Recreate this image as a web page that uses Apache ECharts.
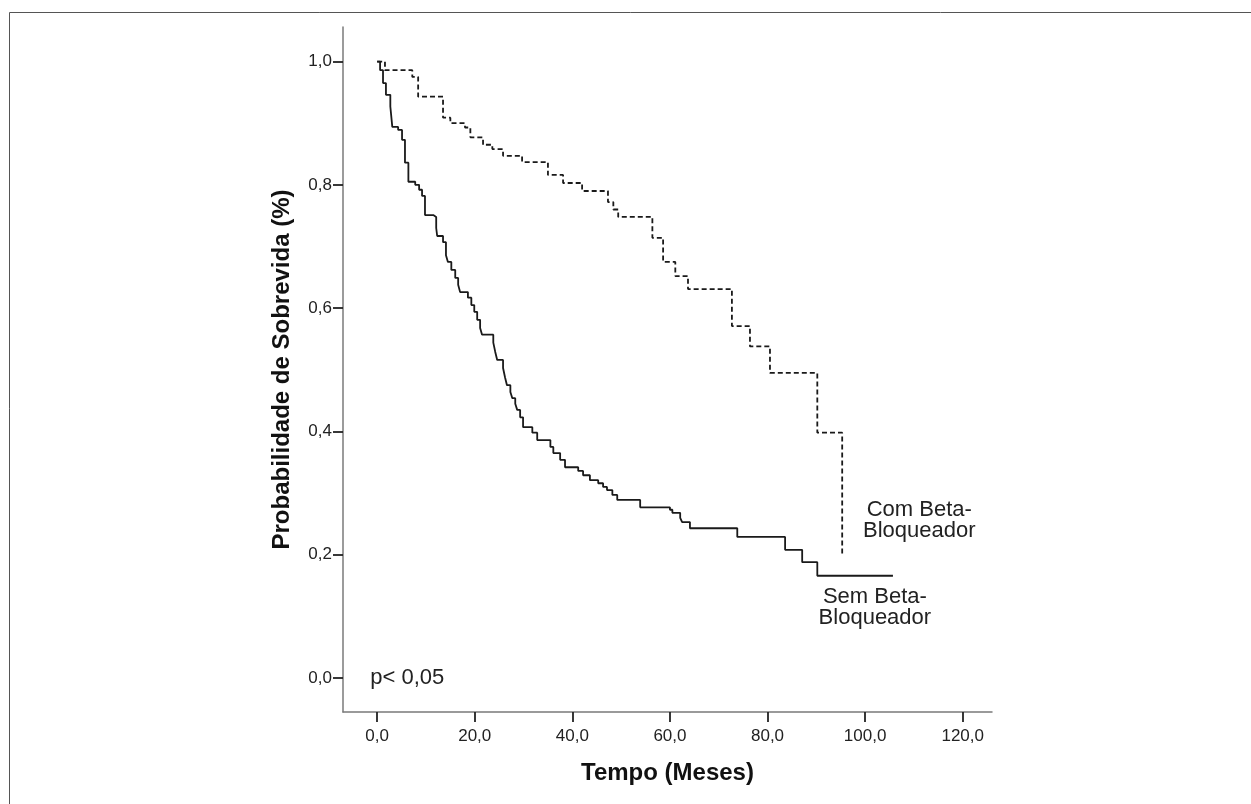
<!DOCTYPE html>
<html>
<head>
<meta charset="utf-8">
<script src="https://cdn.jsdelivr.net/npm/echarts@6/dist/echarts.min.js"></script>
<style>
  html, body { margin: 0; padding: 0; background: #ffffff; }
  #chart { width: 1251px; height: 804px; }
</style>
</head>
<body>
<div id="chart"></div>
<script>
// ---- Data ----
// Kaplan-Meier steps: [time in months, survival after the event]
const comBetaTimes = [0, 1.6, 7.2, 8.4, 13.5, 15.0, 18.0, 19.1, 21.7, 23.6, 25.8, 29.7, 35.0, 38.1, 42.0, 47.3, 48.4, 49.4, 56.4, 58.6, 61.1, 63.7, 72.7, 76.4, 80.5, 90.2, 95.3];
const comBetaSurv  = [1.0, 0.986, 0.975, 0.943, 0.909, 0.900, 0.893, 0.877, 0.865, 0.858, 0.847, 0.837, 0.816, 0.803, 0.790, 0.772, 0.760, 0.748, 0.714, 0.675, 0.652, 0.631, 0.571, 0.538, 0.495, 0.398, 0.201];

const semBetaTimes = [0, 0.6, 1.2, 1.8, 2.7, 3.1, 4.3, 5.1, 5.7, 6.4, 7.8, 8.6, 9.2, 9.8, 11.5, 12.1, 12.3, 13.5, 14.1, 14.5, 15.2, 16.0, 16.6, 17.0, 18.6, 19.3, 19.9, 20.5, 21.1, 21.5, 23.8, 24.2, 24.6, 25.8, 26.2, 26.6, 27.3, 27.7, 28.3, 28.7, 29.3, 29.9, 31.8, 32.8, 35.5, 36.1, 37.5, 38.5, 41.2, 42.2, 43.6, 45.3, 46.3, 47.1, 48.2, 49.2, 53.9, 60.0, 60.5, 62.1, 62.5, 64.1, 73.8, 83.6, 87.1, 90.2, 105.7];
const semBetaSurv  = [1.0, 0.986, 0.965, 0.946, 0.927, 0.894, 0.889, 0.873, 0.836, 0.805, 0.800, 0.792, 0.782, 0.751, 0.748, 0.730, 0.717, 0.707, 0.686, 0.675, 0.662, 0.649, 0.638, 0.626, 0.617, 0.605, 0.594, 0.581, 0.568, 0.557, 0.544, 0.529, 0.516, 0.503, 0.488, 0.475, 0.464, 0.454, 0.445, 0.435, 0.423, 0.407, 0.398, 0.386, 0.375, 0.365, 0.354, 0.342, 0.336, 0.329, 0.321, 0.316, 0.310, 0.305, 0.297, 0.289, 0.277, 0.273, 0.268, 0.260, 0.253, 0.243, 0.229, 0.208, 0.188, 0.166, 0.166];

const xTicks = [0, 20, 40, 60, 80, 100, 120];
const yTicks = [0, 0.2, 0.4, 0.6, 0.8, 1.0];

const xTitle = 'Tempo (Meses)';
const yTitle = 'Probabilidade de Sobrevida (%)';
const comLabel = 'Com Beta-\nBloqueador';
const semLabel = 'Sem Beta-\nBloqueador';
const pLabel = 'p< 0,05';

// annotation anchor points in data space
const comLabelPos = [111.1, 0.255];
const semLabelPos = [102.0, 0.114];
const pLabelPos = [-1.4, 0.0];

// ---- Chart ----
const fmt = v => v.toFixed(1).replace('.', ',');
const zip = (a, b) => a.map((t, i) => [t, b[i]]);

const chart = echarts.init(document.getElementById('chart'), null, { renderer: 'canvas' });

const option = {
  animation: false,
  backgroundColor: '#ffffff',
  grid: { left: 343, top: 27, right: 259, bottom: 92, containLabel: false },
  xAxis: {
    type: 'value',
    min: -7, max: 126,
    name: xTitle,
    nameLocation: 'middle',
    nameGap: 49,
    nameTextStyle: { fontFamily: 'Liberation Sans, Arial, sans-serif', fontWeight: 'bold', fontSize: 24, color: '#111' },
    axisLine: { show: true, onZero: false, lineStyle: { color: '#7a7a7a', width: 1.5 } },
    axisTick: { show: true, inside: false, length: 10, customValues: xTicks, lineStyle: { color: '#222', width: 1.8 } },
    axisLabel: { customValues: xTicks, formatter: fmt, margin: 16, fontFamily: 'Liberation Sans, Arial, sans-serif', fontSize: 17, color: '#222' },
    splitLine: { show: false }
  },
  yAxis: {
    type: 'value',
    min: -0.055, max: 1.056,
    name: yTitle,
    nameLocation: 'middle',
    nameGap: 49,
    nameRotate: 90,
    nameTextStyle: { fontFamily: 'Liberation Sans, Arial, sans-serif', fontWeight: 'bold', fontSize: 24, color: '#111' },
    axisLine: { show: true, onZero: false, lineStyle: { color: '#7a7a7a', width: 1.5 } },
    axisTick: { show: true, inside: false, length: 10, customValues: yTicks, lineStyle: { color: '#222', width: 1.8 } },
    axisLabel: { customValues: yTicks, formatter: fmt, margin: 11, fontFamily: 'Liberation Sans, Arial, sans-serif', fontSize: 17, color: '#222' },
    splitLine: { show: false }
  },
  series: [
    {
      name: 'Com Beta-Bloqueador',
      type: 'line',
      step: 'end',
      showSymbol: false,
      data: zip(comBetaTimes, comBetaSurv),
      lineStyle: { color: '#1a1a1a', width: 1.8, type: [5, 3] }
    },
    {
      name: 'Sem Beta-Bloqueador',
      type: 'line',
      step: 'end',
      showSymbol: false,
      data: zip(semBetaTimes, semBetaSurv),
      lineStyle: { color: '#1a1a1a', width: 1.8, type: 'solid' }
    }
  ]
};
chart.setOption(option);

const toPx = p => chart.convertToPixel({ gridIndex: 0 }, p);
const cp = toPx(comLabelPos), sp = toPx(semLabelPos), pp = toPx(pLabelPos);
const textBase = { fontFamily: 'Liberation Sans, Arial, sans-serif', fontSize: 22, fill: '#222', lineHeight: 21 };

chart.setOption({
  graphic: [
    { type: 'line', shape: { x1: 9.5, y1: 12.5, x2: 1251, y2: 12.5 }, style: { stroke: '#555', lineWidth: 1 } },
    { type: 'line', shape: { x1: 9.5, y1: 12.5, x2: 9.5, y2: 804 }, style: { stroke: '#555', lineWidth: 1 } },
    { type: 'text', x: cp[0], y: cp[1], style: Object.assign({ text: comLabel, align: 'center', verticalAlign: 'middle' }, textBase) },
    { type: 'text', x: sp[0], y: sp[1], style: Object.assign({ text: semLabel, align: 'center', verticalAlign: 'middle' }, textBase) },
    { type: 'text', x: pp[0], y: pp[1], style: Object.assign({ text: pLabel, align: 'left', verticalAlign: 'middle' }, textBase) }
  ]
});
</script>
</body>
</html>
